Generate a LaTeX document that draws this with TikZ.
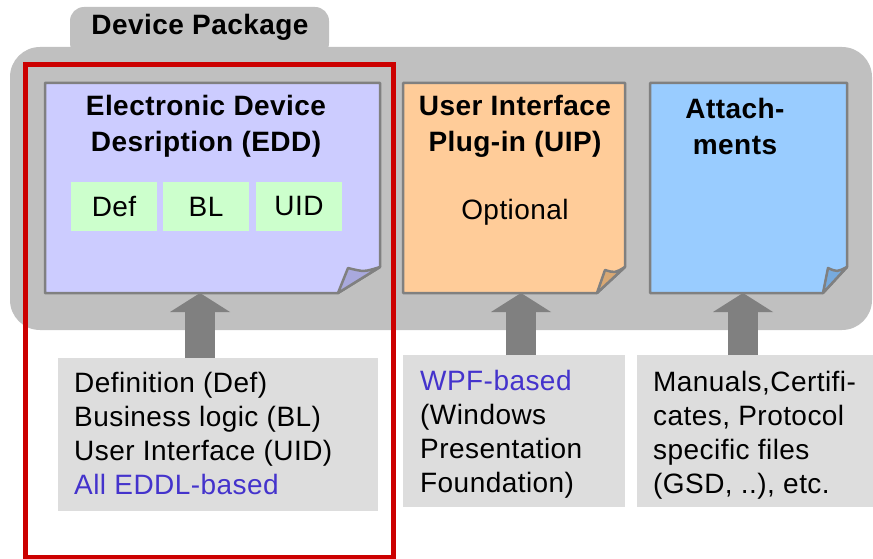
\documentclass[tikz,border=0pt]{standalone}
\usepackage{fontspec}
\setmainfont{Liberation Sans}[LetterSpace=1.6]
\usetikzlibrary{arrows.meta,calc}
\definecolor{panelgray}{HTML}{C0C0C0}
\definecolor{docborder}{HTML}{808080}
\definecolor{eddfill}{HTML}{CCCCFF}
\definecolor{eddflap}{HTML}{A9A9DD}
\definecolor{uipfill}{HTML}{FFCC99}
\definecolor{uipflap}{HTML}{D9A873}
\definecolor{attfill}{HTML}{99CCFF}
\definecolor{attflap}{HTML}{77AADD}
\definecolor{greenbox}{HTML}{CCFFCC}
\definecolor{notegray}{HTML}{DDDDDD}
\definecolor{redframe}{HTML}{CC0000}
\definecolor{bluetext}{HTML}{4433CC}
\begin{document}
\begin{tikzpicture}[x=1pt,y=-1pt,
  area/.style={inner sep=0pt, outer sep=0pt, anchor=north west},
  docline/.style={draw=docborder, line width=2.5pt, line join=round},
  titletext/.style={font=\fontsize{28}{36}\selectfont\bfseries, align=center, inner sep=0pt},
  bodytext/.style={font=\fontsize{28}{34}\selectfont, align=left, inner sep=0pt, anchor=north west},
  notebox/.style={area, fill=notegray},
  partbox/.style={fill=greenbox, minimum width=86pt, minimum height=49pt, inner sep=0pt, font=\fontsize{28}{34}\selectfont},
  bigarrow/.style={draw=docborder, line width=30pt, -{Triangle[width=60pt,length=19pt,line width=0pt]}}
]
\useasboundingbox (0,0) rectangle (873,559);
% package background
\node[area, fill=panelgray, rounded corners=14pt, minimum width=259pt, minimum height=50pt] (tab) at (70,7) {};
\node[area, fill=panelgray, rounded corners=30pt, minimum width=862pt, minimum height=283pt] (panel) at (10,47) {};
\node[font=\fontsize{28}{34}\selectfont\bfseries, anchor=base, inner sep=0pt] (pkglabel) at (200,35) {Device Package};

% documents
\node[area, minimum width=335pt, minimum height=210pt] (edd) at (45,83) {};
\node[area, minimum width=222pt, minimum height=210pt] (uip) at (403,83) {};
\node[area, minimum width=197pt, minimum height=210pt] (att) at (650,83) {};

\filldraw[docline, fill=eddfill] (edd.north west) -- (edd.north east) -- ([yshift=26pt]edd.south east) -- ([xshift=-42pt]edd.south east) -- (edd.south west) -- cycle;
\filldraw[docline, fill=eddflap] ([xshift=-42pt]edd.south east) -- ([xshift=-32pt,yshift=25pt]edd.south east) .. controls ([xshift=-16pt,yshift=21pt]edd.south east) .. ([yshift=26pt]edd.south east) -- cycle;

\filldraw[docline, fill=uipfill] (uip.north west) -- (uip.north east) -- ([yshift=26pt]uip.south east) -- ([xshift=-28pt]uip.south east) -- (uip.south west) -- cycle;
\filldraw[docline, fill=uipflap] ([xshift=-28pt]uip.south east) -- ([xshift=-20pt,yshift=23pt]uip.south east) .. controls ([xshift=-10pt,yshift=20pt]uip.south east) .. ([yshift=26pt]uip.south east) -- cycle;

\filldraw[docline, fill=attfill] (att.north west) -- (att.north east) -- ([yshift=26pt]att.south east) -- ([xshift=-24pt]att.south east) -- (att.south west) -- cycle;
\filldraw[docline, fill=attflap] ([xshift=-24pt]att.south east) -- ([xshift=-19pt,yshift=25pt]att.south east) .. controls ([xshift=-10pt,yshift=21pt]att.south east) .. ([yshift=26pt]att.south east) -- cycle;

\node[titletext] (eddtitle) at (206,126) {Electronic Device\\Desription (EDD)};
\node[titletext] (uiptitle) at (515,126) {User Interface\\Plug-in (UIP)};
\node[titletext] (atttitle) at (735,126) {Attach-\\ments};
\node[font=\fontsize{28}{34}\selectfont, inner sep=0pt] (optional) at (515,212) {Optional};

\node[partbox] (def) at (114,206.5) {Def};
\node[partbox] (bl) at (206,206.5) {BL};
\node[partbox] (uid) at (299,206.5) {UID};

% notes
\node[notebox, minimum width=320pt, minimum height=153pt] (eddnote) at (58,358) {};
\node[notebox, minimum width=222pt, minimum height=152pt] (uipnote) at (403,355) {};
\node[notebox, minimum width=236pt, minimum height=152pt] (attnote) at (637,355) {};

\node[bodytext] (eddtext) at (74,372.5) {Definition (Def)\\Business logic (BL)\\User Interface (UID)\\\textcolor{bluetext}{All EDDL-based}};
\node[bodytext] (uiptext) at (420,370) {\textcolor{bluetext}{WPF-based}\\(Windows\\Presentation\\Foundation)};
\node[bodytext] (atttext) at (653,371) {Manuals,Certifi-\\cates, Protocol\\specific files\\(GSD, ..), etc.};

% arrows
\coordinate (ax1) at (200,0);
\coordinate (ax2) at (521,0);
\coordinate (ax3) at (743,0);
\draw[bigarrow] (eddnote.north -| ax1) -- (edd.south -| ax1);
\draw[bigarrow] (uipnote.north -| ax2) -- (uip.south -| ax2);
\draw[bigarrow] (attnote.north -| ax3) -- (att.south -| ax3);

% red frame
\node[area, draw=redframe, line width=5pt, minimum width=368pt, minimum height=492pt, anchor=center] (frame) at (209,311) {};
\end{tikzpicture}
\end{document}
